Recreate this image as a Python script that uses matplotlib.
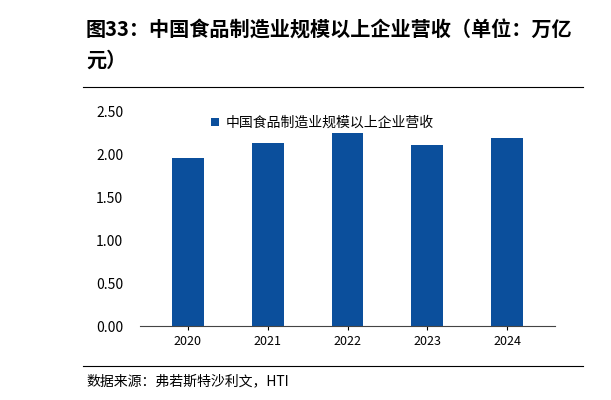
import matplotlib
matplotlib.use("Agg")
import matplotlib.pyplot as plt
from matplotlib.lines import Line2D

plt.rcParams['font.family'] = ['Noto Sans CJK SC', 'DejaVu Sans']

years = ["2020", "2021", "2022", "2023", "2024"]
values = [1.96, 2.14, 2.26, 2.11, 2.20]
series_name = "中国食品制造业规模以上企业营收"
title = "图33：中国食品制造业规模以上企业营收（单位：万亿\n元）"
source = "数据来源：弗若斯特沙利文，HTI"
yticks = [0.0, 0.5, 1.0, 1.5, 2.0, 2.5]

W, H = 611, 400
fig = plt.figure(figsize=(W/100, H/100), dpi=100)
ax = fig.add_axes([140/W, 1-326/H, (555-140)/W, (326-112)/H])
bars = ax.bar(years, values, width=0.4, color="#0B4F9C", label=series_name)
ax.set_ylim(0, 2.5)
ax.set_yticks(yticks)
ax.set_yticklabels([f"{v:.2f}" for v in yticks], fontsize=10)
ax.set_xlim(-0.6, 4.6)
for s in ["top", "right", "left"]:
    ax.spines[s].set_visible(False)
ax.spines["bottom"].set_color("#444444")
ax.tick_params(axis="y", length=0, pad=12)
ax.tick_params(axis="x", length=3, labelsize=9)
ax.legend(loc="upper left", bbox_to_anchor=(0.14, 1.04), frameon=False, fontsize=10,
          handlelength=0.6, handleheight=0.6, handletextpad=0.5)

fig.text(86/W, 1-45/H, title, fontsize=14.5, fontweight="bold", va="center", linespacing=1.5)
fig.add_artist(Line2D([83/W, 583/W], [1-87/H, 1-87/H], color="black", lw=0.8))
fig.add_artist(Line2D([83/W, 583/W], [1-366/H, 1-366/H], color="black", lw=0.8))
fig.text(86/W, 1-381/H, source, fontsize=10, va="center")
fig.savefig("out.png", dpi=100)
